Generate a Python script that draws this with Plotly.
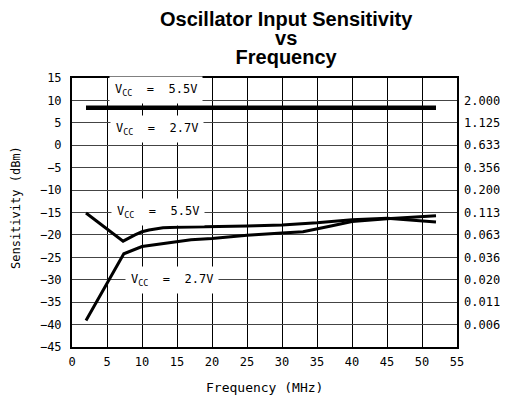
import plotly.graph_objects as go

# Top (flat) curves
top_freq = [2, 52]
top_55 = [8.4, 8.4]
top_27 = [8.3, 8.3]

# Lower curves
freq_55 = [2, 7.3, 9, 10, 11, 13, 15, 20, 25, 30, 35, 40, 45, 52]
sens_55 = [-15.1, -21.4, -20.0, -19.3, -18.9, -18.4, -18.3, -18.2, -18.0, -17.8, -17.3, -16.6, -16.3, -17.1]
freq_27 = [2, 7.4, 10, 14, 17, 20, 25, 30, 33, 37, 40, 45, 52]
sens_27 = [-39.1, -24.2, -22.6, -21.7, -21.1, -20.8, -20.1, -19.6, -19.3, -18.0, -17.0, -16.4, -15.7]

x_ticks = list(range(0, 56, 5))
y_ticks = list(range(-45, 16, 5))
right_vals = [10, 5, 0, -5, -10, -15, -20, -25, -30, -35, -40]
right_text = ["2.000", "1.125", "0.633", "0.356", "0.200", "0.113", "0.063", "0.036", "0.020", "0.011", "0.006"]

title_lines = ["Oscillator Input Sensitivity", "vs", "Frequency"]

FONT = "DejaVu Sans Mono"
FS = 12
# page has an 8px body margin; figure coordinates = screen - 8
L, R, T, B = 64, 59, 70, 63
W = 508 - L - R
H = 402 - T - B

fig = go.Figure()
line = dict(color="black", width=3)
fig.add_trace(go.Scatter(x=top_freq, y=top_55, mode="lines", line=dict(color="black", width=4), showlegend=False))
fig.add_trace(go.Scatter(x=top_freq, y=top_27, mode="lines", line=dict(color="black", width=4), showlegend=False))
fig.add_trace(go.Scatter(x=freq_55, y=sens_55, mode="lines", line=line, showlegend=False))
fig.add_trace(go.Scatter(x=freq_27, y=sens_27, mode="lines", line=line, showlegend=False))
fig.add_trace(go.Scatter(x=[0], y=[0], yaxis="y2", mode="markers", marker=dict(opacity=0), showlegend=False, hoverinfo="skip"))

labels = [
    (12, 12.4, "V<sub>CC</sub> = 5.5V"),
    (12.2, 3.7, "V<sub>CC</sub> = 2.7V"),
    (12.3, -14.9, "V<sub>CC</sub> = 5.5V"),
    (14.3, -30, "V<sub>CC</sub> = 2.7V"),
]
for x, y, t in labels:
    fig.add_annotation(x=x, y=y, text=t.replace(" = ", " \u00a0=\u00a0 "), showarrow=False,
                       bgcolor="white", font=dict(family=FONT, size=FS, color="black"),
                       borderpad=5)

# screen-pixel helpers (screen coords of reference)
def px(sx):
    return (sx - 8 - L) / W

def py(sy):
    return (402 - B - (sy - 8)) / H

title_text = "<br>".join(f"<span style='font-size:20px'><b>{t}</b></span>" for t in title_lines)
fig.add_annotation(x=px(286), xref="paper", y=py(38), yref="paper",
                   text=title_text, showarrow=False, xanchor="center", yanchor="middle",
                   font=dict(family="Liberation Sans", size=14.6, color="black"))
fig.add_annotation(x=px(264), xref="paper", y=py(387), yref="paper",
                   text="Frequency (MHz)", showarrow=False, xanchor="center", yanchor="middle",
                   font=dict(family=FONT, size=13, color="black"))
fig.add_annotation(x=px(16), xref="paper", y=py(208), yref="paper",
                   text="Sensitivity (dBm)", showarrow=False, xanchor="center", yanchor="middle",
                   textangle=-90, font=dict(family=FONT, size=FS, color="black"))

fig.update_layout(
    width=508, height=402,
    margin=dict(l=L, r=R, t=T, b=B, autoexpand=False),
    plot_bgcolor="white", paper_bgcolor="white",
    xaxis=dict(range=[0, 55], tickvals=x_ticks, showgrid=True, gridcolor="black", gridwidth=1,
               showline=True, linecolor="black", linewidth=2, mirror=True, zeroline=False,
               ticks="", automargin=False, ticklabelstandoff=3,
               tickfont=dict(family=FONT, size=FS, color="black")),
    yaxis=dict(range=[-45, 15], tickvals=y_ticks, showgrid=True, gridcolor="#444", gridwidth=1,
               showline=True, linecolor="black", linewidth=2, mirror=True, zeroline=False,
               ticks="", automargin=False, ticklabelstandoff=6,
               tickfont=dict(family=FONT, size=FS, color="black")),
    yaxis2=dict(range=[-45, 15], overlaying="y", side="right", tickvals=right_vals, ticktext=right_text,
                showgrid=False, zeroline=False, showline=False, ticks="", automargin=False,
                ticklabelstandoff=6, tickfont=dict(family=FONT, size=FS, color="black")),
)

fig.write_html("out.html")
